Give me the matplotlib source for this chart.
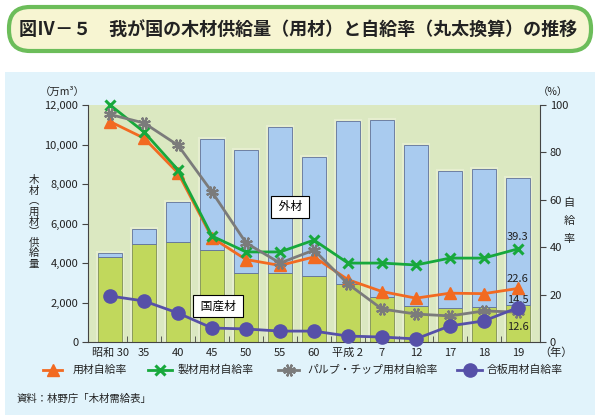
import numpy as np
import matplotlib
matplotlib.use("Agg")
import matplotlib.pyplot as plt
from matplotlib.patches import FancyBboxPatch, Rectangle
from matplotlib.lines import Line2D

plt.rcParams['font.family'] = ['Noto Sans CJK JP', 'DejaVu Sans']

# 年次
years = ["昭和 30", "35", "40", "45", "50", "55", "60", "平成 2", "7", "12", "17", "18", "19"]
# 木材供給量（万m3）
domestic = [4300, 4960, 5060, 4660, 3490, 3490, 3340, 2940, 2280, 1820, 1720, 1770, 1860]
imported = [230, 760, 2030, 5640, 6210, 7410, 6030, 8250, 8940, 8130, 6930, 6970, 6420]
# 自給率（%）
rate_yozai = [93.0, 86.0, 71.3, 44.0, 34.8, 32.3, 35.9, 26.3, 21.3, 18.5, 20.6, 20.4, 22.6]
rate_seizai = [100.0, 88.6, 72.6, 44.7, 38.0, 38.0, 43.0, 33.3, 33.3, 32.5, 35.4, 35.4, 39.3]
rate_pulp = [96.0, 92.4, 83.0, 63.3, 41.8, 33.3, 38.8, 24.5, 13.9, 11.8, 11.0, 13.1, 12.6]
rate_gouhan = [19.4, 17.3, 12.2, 5.9, 5.5, 4.6, 4.6, 2.5, 2.1, 1.3, 6.8, 8.9, 14.5]

c_orange = "#f26a21"
c_green = "#17a83c"
c_gray = "#7b7b7b"
c_purple = "#5650a8"
star = (8, 2, 22.5)

fig = plt.figure(figsize=(6, 4.15), dpi=100)
fig.patch.set_facecolor("white")

# background layer in pixel units
bg = fig.add_axes([0, 0, 1, 1], zorder=0)
bg.set_xlim(0, 600)
bg.set_ylim(415, 0)
bg.axis("off")
bg.add_patch(Rectangle((5, 72), 590, 343, facecolor="#e1f3fb", edgecolor="none"))
bg.add_patch(FancyBboxPatch((9, 7), 582, 44, boxstyle="round,pad=0,rounding_size=21",
                            facecolor="#f7f5d2", edgecolor="#6cbd5a", lw=3))
bg.text(298, 29, "図Ⅳ－５　我が国の木材供給量（用材）と自給率（丸太換算）の推移",
        ha="center", va="center", fontsize=13, fontweight="bold", color="#222222")

x = np.arange(len(years))

ax = fig.add_axes([88 / 600, 1 - 342 / 415, 452 / 600, 237 / 415], zorder=1)
ax.set_facecolor("#dbe8c1")
# light halo around bars
ax.bar(x, np.add(domestic, imported), width=0.7, color="none", edgecolor="#e6eecf", lw=3, zorder=1)
ax.bar(x, domestic, width=0.7, color="#c1d85c", edgecolor="#7f8f55", lw=0.6, zorder=2)
ax.bar(x, imported, bottom=domestic, width=0.7, color="#a9cbef", edgecolor="#5f7199", lw=0.6, zorder=2)
ax.set_xlim(-0.65, 12.65)
ax.set_ylim(0, 12000)
ax.set_yticks(range(0, 12001, 2000))
ax.set_yticklabels([f"{v:,}" for v in range(0, 12001, 2000)], fontsize=8, color="#222222")
ax.set_xticks(x)
ax.set_xticklabels(years, fontsize=8, color="#222222")
ax.tick_params(axis="x", length=0, pad=4)
ax.set_xticks(x[:-1] + 0.5, minor=True)
ax.tick_params(axis="x", which="minor", direction="in", length=4, color="#444444")
ax.tick_params(axis="y", direction="out", length=4, color="#444444", pad=3)
for s in ["top", "right"]:
    ax.spines[s].set_visible(False)
for s in ["left", "bottom"]:
    ax.spines[s].set_color("#444444")

ax.text(5.3, 6840, " 外材 ", ha="center", va="center", fontsize=8.5, zorder=5,
        bbox=dict(boxstyle="square,pad=0.4", facecolor="white", edgecolor="black", lw=0.8))
ax.text(3.18, 1820, " 国産材 ", ha="center", va="center", fontsize=8.5, zorder=5,
        bbox=dict(boxstyle="square,pad=0.4", facecolor="white", edgecolor="black", lw=0.8))

ax2 = ax.twinx()
ax2.set_ylim(0, 100)
ax2.set_yticks(range(0, 101, 20))
ax2.tick_params(axis="y", direction="out", length=4, color="#444444", labelsize=8,
                labelcolor="#222222", pad=3)
ax2.spines["top"].set_visible(False)
ax2.spines["left"].set_visible(False)
ax2.spines["bottom"].set_visible(False)
ax2.spines["right"].set_color("#444444")

ax2.plot(x, rate_yozai, color=c_orange, lw=2, marker="^", ms=8, mec=c_orange, clip_on=False, zorder=3)
ax2.plot(x, rate_seizai, color=c_green, lw=2, marker="x", ms=7, mew=2.2, clip_on=False, zorder=4)
ax2.plot(x, rate_pulp, color=c_gray, lw=2, marker=star, ms=9, mew=1.6, clip_on=False, zorder=4)
ax2.plot(x, rate_gouhan, color=c_purple, lw=2, marker="o", ms=9.5, clip_on=False, zorder=5)

ax2.text(12, 44.3, f"{rate_seizai[-1]:.1f}", ha="center", va="center", fontsize=8, color="#222222")
ax2.text(12, 26.6, f"{rate_yozai[-1]:.1f}", ha="center", va="center", fontsize=8, color="#222222")
ax2.text(12, 17.8, f"{rate_gouhan[-1]:.1f}", ha="center", va="center", fontsize=8, color="#222222")
ax2.text(12, 6.3, f"{rate_pulp[-1]:.1f}", ha="center", va="center", fontsize=8, color="#222222")

# axis titles
bg.text(62, 92, "（万m³）", ha="center", va="center", fontsize=7.5, color="#222222")
bg.text(553, 92, "（%）", ha="center", va="center", fontsize=7.5, color="#222222")
bg.text(34, 222, "木\n材\n︵\n用\n材\n︶\n供\n給\n量", ha="center", va="center",
        fontsize=7.5, linespacing=1.05, color="#222222")
bg.text(569, 221, "自\n給\n率", ha="center", va="center", fontsize=8,
        linespacing=2.0, color="#222222")
bg.text(556, 353, "（年）", ha="center", va="center", fontsize=8, color="#222222")

# legend
entries = [
    (43, 62, 73, "用材自給率", dict(color=c_orange, marker="^", ms=8)),
    (148, 172, 178, "製材用材自給率", dict(color=c_green, marker="x", ms=7, mew=2.2)),
    (278, 299, 307, "パルプ・チップ用材自給率", dict(color=c_gray, marker=star, ms=9, mew=1.6)),
    (457, 482, 487, "合板用材自給率", dict(color=c_purple, marker="o", ms=9.5)),
]
ly = 370
for x0, x1, xt, label, style in entries:
    bg.add_line(Line2D([x0, x1], [ly, ly], lw=2, color=style["color"]))
    bg.add_line(Line2D([(x0 + x1) / 2], [ly], lw=0, **style))
    bg.text(xt, ly, label, ha="left", va="center", fontsize=7.8, color="#222222")

bg.text(17, 399, "資料：林野庁「木材需給表」", ha="left", va="center", fontsize=7.5, color="#222222")

fig.savefig("out.png", dpi=100)
